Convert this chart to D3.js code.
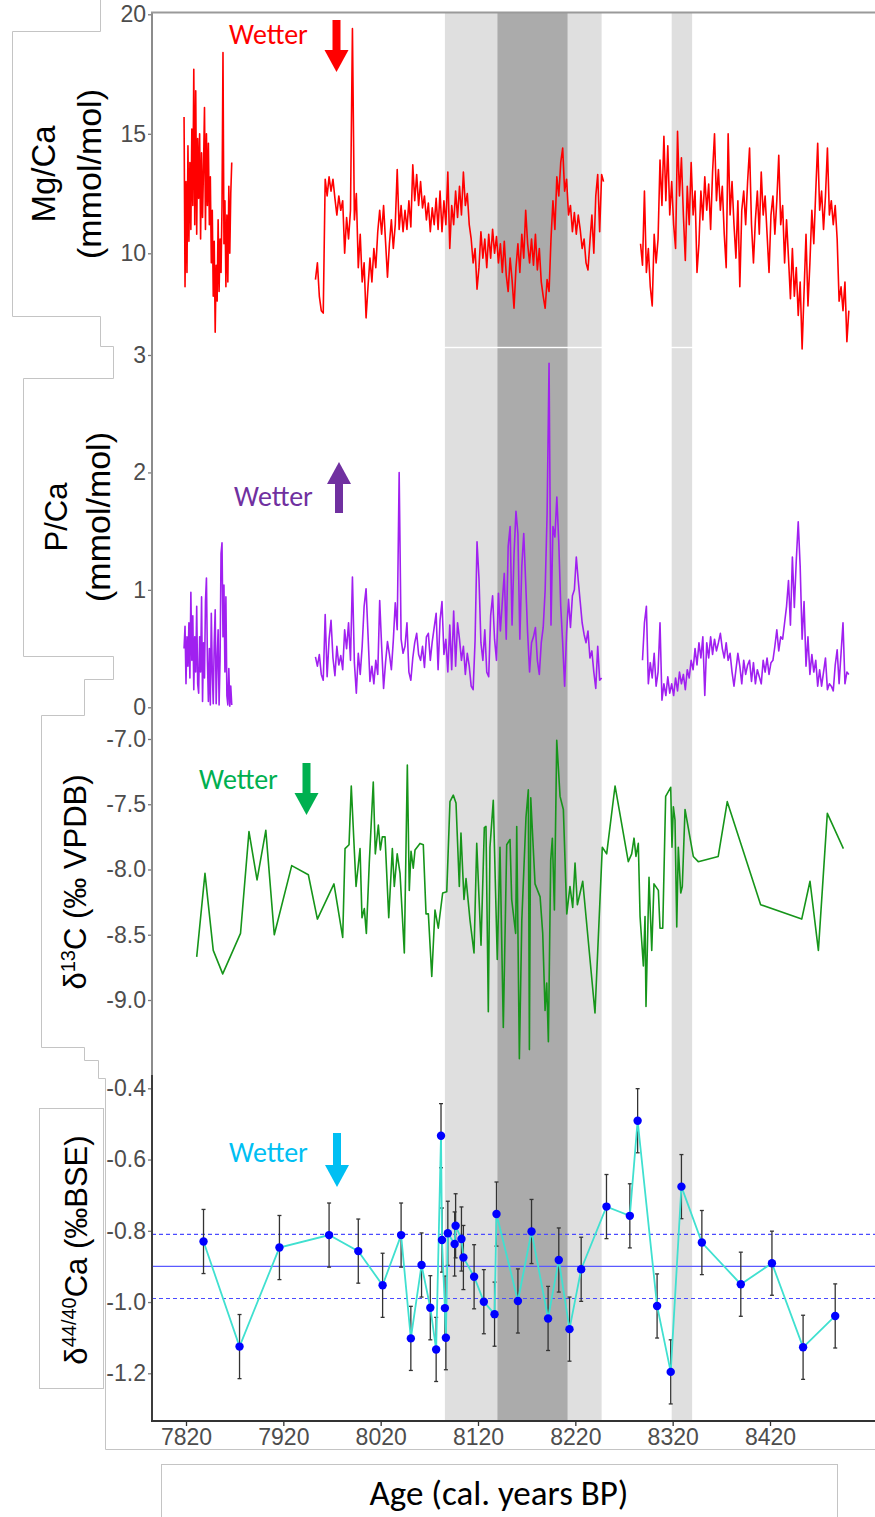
<!DOCTYPE html>
<html>
<head>
<meta charset="utf-8">
<script src="https://cdn.jsdelivr.net/npm/d3@7"></script>
<style>
    body { margin: 0; background: #fff; }
    svg { display: block; }
    .tick text { font-family: "Liberation Sans", Arial, sans-serif; font-size: 23px; fill: #4d4d4d; }
</style>
</head>
<body>
<svg width="875" height="1517"></svg>
<script>
"use strict";

// age axis (cal. years BP)
var ageTicks = [7820, 7920, 8020, 8120, 8220, 8320, 8420];
var lightBands = [[8086, 8247], [8319, 8340]];
var darkBand = [8140, 8212];

// Mg/Ca (mmol/mol): three sections sampled every mgSteps years
var mgStarts = [7818, 7953, 8287];
var mgSteps = [1, 2, 2];
var mgA = [15.7, 8.6, 13.0, 9.2, 14.5, 10.5, 13.8, 11.0, 15.2, 12.0, 17.7,
    11.2, 16.8, 10.8, 14.8, 12.3, 15.0, 10.6, 14.2, 11.5, 13.6, 16.1, 11.0,
    15.0, 12.0, 14.6, 11.2, 13.2, 9.6, 11.8, 8.2, 10.5, 6.7, 9.5, 8.0, 11.4,
    8.4, 10.6, 9.2, 12.0, 18.4, 10.4, 12.2, 8.6, 11.6, 8.8, 12.8, 10.0, 12.5,
    13.8];
var mgB = [8.9, 9.6, 8.2, 7.6, 7.5, 13.1, 12.4, 13.2, 12.6, 13.1, 12.3, 11.6,
    12.4, 11.8, 12.2, 10.0, 11.5, 10.6, 11.8, 19.4, 11.4, 12.5, 9.4, 10.8, 8.8,
    9.6, 7.3, 8.6, 9.8, 8.8, 10.2, 9.4, 10.9, 11.8, 10.8, 12.0, 10.5, 9.0,
    10.4, 11.4, 10.2, 11.2, 13.5, 11.0, 12.0, 10.9, 11.8, 11.0, 12.2, 11.1,
    13.7, 12.2, 13.3, 12.0, 13.0, 11.9, 12.4, 11.4, 12.1, 10.9, 11.9, 11.2,
    12.3, 11.0, 12.6, 10.9, 12.2, 11.2, 13.4, 10.2, 12.0, 11.2, 12.6, 11.5,
    12.8, 11.6, 13.4, 12.0, 12.5, 11.2, 10.6, 9.6, 10.2, 8.5, 9.4, 10.9, 9.8,
    10.6, 9.4, 10.8, 9.8, 11.0, 10.0, 10.7, 9.6, 10.4, 9.2, 10.5, 9.1, 8.4,
    9.8, 8.9, 7.7, 9.4, 10.4, 9.2, 10.8, 9.8, 11.8, 10.4, 9.6, 10.6, 9.5,
    10.8, 9.3, 10.2, 8.8, 8.2, 7.7, 8.9, 8.4, 10.6, 12.2, 11.0, 13.2, 12.4,
    13.8, 14.4, 12.6, 13.1, 11.6, 12.0, 10.9, 11.7, 10.8, 11.6, 11.0, 10.2,
    10.6, 9.6, 9.3, 10.5, 11.6, 10.0, 12.4, 13.3, 10.9, 13.3, 13.0];
var mgC = [10.4, 9.5, 12.6, 9.2, 10.2, 8.6, 7.8, 10.8, 9.6, 10.6, 13.9, 12.0,
    14.9, 12.2, 14.5, 11.6, 13.0, 11.2, 10.2, 15.1, 12.4, 14.0, 11.6, 9.7,
    12.8, 11.2, 13.8, 11.6, 12.6, 9.2, 10.4, 12.6, 11.4, 13.2, 11.8, 12.9,
    11.0, 13.4, 15.0, 12.2, 13.5, 11.8, 12.8, 10.8, 9.4, 15.0, 11.6, 13.0,
    11.2, 9.8, 12.2, 8.6, 11.8, 12.6, 11.2, 13.0, 14.4, 11.2, 9.6, 11.4, 12.6,
    10.8, 13.4, 11.6, 12.4, 10.8, 9.2, 11.6, 12.4, 10.8, 12.2, 14.1, 11.2,
    12.0, 9.6, 11.4, 9.8, 8.1, 10.2, 8.2, 9.4, 7.4, 8.8, 6.0, 8.4, 10.8, 7.8,
    9.6, 11.8, 10.4, 12.6, 14.6, 11.8, 12.6, 11.0, 12.4, 14.4, 11.6, 12.2,
    11.2, 12.0, 10.6, 8.0, 8.6, 7.6, 8.8, 6.3, 7.6];

// P/Ca (mmol/mol)
var pStarts = [7818, 7953, 8289];
var pSteps = [1, 2, 2];
var pA = [0.5, 0.69, 0.2, 0.6, 0.35, 0.72, 0.25, 0.98, 0.4, 0.78, 0.15, 0.6,
    0.3, 0.86, 0.2, 0.12, 0.6, 0.3, 0.94, 0.05, 0.55, 0.25, 0.9, 1.1, 0.4,
    0.05, 0.5, 0.02, 0.8, 0.3, 0.03, 0.55, 0.83, 0.03, 0.4, 0.66, 0.02, 0.4,
    1.31, 1.4, 0.6, 1.04, 0.3, 0.94, 0.1, 0.02, 0.33, 0.01, 0.18, 0.02];
var pB = [0.43, 0.35, 0.45, 0.28, 0.23, 0.79, 0.26, 0.58, 0.74, 0.42, 0.27,
    0.52, 0.36, 0.44, 0.32, 0.66, 0.5, 0.72, 0.4, 1.11, 0.38, 0.12, 0.46,
    0.28, 0.52, 0.86, 1.01, 0.62, 0.22, 0.35, 0.2, 0.4, 0.28, 0.91, 0.52,
    0.16, 0.38, 0.56, 0.45, 0.32, 0.57, 0.89, 0.66, 2.0, 0.58, 0.46, 0.52,
    0.72, 0.3, 0.23, 0.42, 0.55, 0.63, 0.45, 0.4, 0.52, 0.34, 0.6, 0.63, 0.4,
    0.56, 0.68, 0.8, 0.32, 0.74, 0.9, 0.45, 0.58, 0.3, 0.7, 0.32, 0.82, 0.35,
    0.72, 0.58, 0.4, 0.52, 0.28, 0.46, 0.35, 0.18, 0.15, 0.57, 1.41, 1.1,
    0.55, 0.4, 0.66, 0.3, 0.26, 0.78, 0.95, 0.58, 0.4, 0.97, 0.65, 0.9, 1.14,
    0.58, 1.37, 1.54, 0.7, 1.3, 1.67, 1.48, 0.58, 1.2, 1.48, 1.06, 0.63, 0.3,
    0.55, 0.6, 0.68, 0.4, 0.28, 0.55, 0.68, 1.0, 1.65, 2.93, 0.7, 1.54, 1.45,
    1.79, 1.4, 0.86, 0.55, 0.18, 0.63, 0.92, 0.68, 0.95, 1.0, 1.28, 1.08, 0.9,
    0.72, 0.62, 0.55, 0.65, 0.42, 0.48, 0.3, 0.16, 0.52, 0.23, 0.25];
var pC = [0.4, 0.72, 0.86, 0.2, 0.38, 0.25, 0.46, 0.18, 0.3, 0.72, 0.06, 0.2,
    0.1, 0.26, 0.12, 0.2, 0.1, 0.25, 0.14, 0.3, 0.2, 0.28, 0.15, 0.32, 0.25,
    0.4, 0.32, 0.5, 0.36, 0.55, 0.42, 0.6, 0.1, 0.55, 0.42, 0.6, 0.45, 0.58,
    0.48, 0.55, 0.63, 0.5, 0.42, 0.55, 0.4, 0.46, 0.3, 0.18, 0.32, 0.46,
    0.35, 0.2, 0.4, 0.28, 0.36, 0.4, 0.22, 0.38, 0.2, 0.32, 0.26, 0.2, 0.4,
    0.3, 0.42, 0.28, 0.38, 0.4, 0.52, 0.66, 0.48, 0.6, 0.58, 0.72, 0.86, 1.08,
    0.7, 1.28, 0.85, 1.25, 1.58, 1.2, 0.58, 0.9, 0.35, 0.6, 0.28, 0.45, 0.3,
    0.4, 0.18, 0.32, 0.18, 0.3, 0.42, 0.15, 0.2, 0.18, 0.14, 0.36, 0.49, 0.2,
    0.46, 0.72, 0.2, 0.3, 0.28];

// d13C (permil VPDB)
var cYears = [7831, 7839.5, 7848, 7857.7, 7876, 7884.7, 7893, 7902, 7910.7,
    7928.6, 7945.7, 7955, 7972, 7981, 7983.4, 7987.5, 7989.8, 7994.7, 7998.8,
    8000.8, 8003.2, 8005.3, 8008.3, 8012.4, 8014.5, 8017.6, 8019.7, 8021.7,
    8024.5, 8028.3, 8032, 8034, 8037, 8039.9, 8044.3, 8047.4, 8049.4, 8051.2,
    8053.5, 8055.3, 8060.4, 8063.8, 8066.6, 8069, 8072.5, 8075.8, 8079.2,
    8083.7, 8087.9, 8091.2, 8094.6, 8097.4, 8100.8, 8102.5, 8105.6, 8107.7,
    8111.8, 8115.9, 8118.7, 8123.1, 8126.5, 8128.2, 8130.6, 8132.3, 8135.7,
    8139.8, 8142.6, 8146, 8149.5, 8152.9, 8154.6, 8158.7, 8159.8, 8162.5,
    8165, 8169.3, 8171.7, 8172.8, 8174.2, 8178.6, 8183.8, 8186.5, 8188.9,
    8190.6, 8192.3, 8194.7, 8196.4, 8198.5, 8200.9, 8204.3, 8207.7, 8211.2,
    8214.5, 8217.3, 8219.7, 8222.1, 8227.6, 8240.2, 8247.7, 8252.2, 8260.8,
    8274.4, 8277.9, 8280.3, 8282.3, 8284.7, 8286.5, 8289.9, 8291.6, 8292.6,
    8295.7, 8298.5, 8300.8, 8305.3, 8307, 8309.8, 8312.8, 8318, 8319.3,
    8320.7, 8322.4, 8324.2, 8325.8, 8328.3, 8329.9, 8332.7, 8341.2, 8346.3,
    8366.8, 8376.1, 8410.4, 8452.6, 8461.1, 8469.7, 8478.9, 8495.4];
var cValues = [-8.67, -8.03, -8.62, -8.80, -8.49, -7.71, -8.08, -7.70, -8.50,
    -7.97, -8.04, -8.38, -8.11, -8.52, -7.84, -7.81, -7.36, -8.13, -7.84,
    -8.37, -8.30, -8.49, -7.95, -7.33, -7.88, -7.66, -7.85, -7.75, -7.75,
    -8.37, -7.84, -8.13, -7.88, -8.03, -8.64, -7.20, -8.16, -7.86, -7.99,
    -7.85, -7.80, -7.81, -8.34, -8.34, -8.82, -8.31, -8.45, -8.18, -8.17,
    -7.48, -7.43, -7.49, -8.13, -7.72, -8.23, -8.07, -8.39, -8.64, -7.80,
    -8.58, -7.68, -7.67, -9.09, -7.83, -7.47, -8.69, -7.83, -9.21, -7.81,
    -7.77, -8.23, -8.49, -7.67, -9.45, -8.39, -7.60, -7.39, -9.38, -7.45,
    -8.11, -8.21, -8.49, -9.08, -8.87, -9.32, -7.93, -7.76, -8.31, -7.01,
    -7.44, -7.54, -8.34, -8.13, -8.29, -7.95, -8.27, -8.09, -9.10, -7.83,
    -7.88, -7.36, -7.94, -7.88, -7.76, -7.90, -7.80, -8.36, -8.74, -8.36,
    -9.05, -8.06, -8.62, -8.11, -8.16, -8.45, -8.45, -7.44, -7.37, -7.83,
    -7.52, -7.62, -8.44, -7.83, -8.18, -8.13, -7.54, -7.90, -7.94, -7.90,
    -7.48, -8.27, -8.38, -8.09, -8.62, -7.57, -7.84];

// d44/40Ca (permil BSE) with error bars
var caYears = [7838, 7875, 7916, 7967, 7997, 8022, 8041, 8051, 8062, 8071,
    8077, 8082, 8083, 8086, 8087, 8089, 8096, 8097, 8103, 8105, 8116, 8126,
    8137, 8139, 8161, 8175, 8192, 8203, 8214, 8226, 8252, 8276, 8284, 8304,
    8318, 8329, 8350, 8390, 8422, 8454, 8487];
var caValues = [-0.83, -1.125, -0.847, -0.812, -0.857, -0.953, -0.812,
    -1.102, -0.896, -1.016, -1.133, -0.533, -0.826, -1.017, -1.10, -0.807,
    -0.837, -0.786, -0.823, -0.875, -0.929, -0.999, -1.034, -0.753, -0.997,
    -0.802, -1.046, -0.882, -1.076, -0.908, -0.732, -0.758, -0.491, -1.011,
    -1.196, -0.676, -0.833, -0.95, -0.891, -1.127, -1.039];
var caErrors = [0.09, 0.09, 0.09, 0.09, 0.09, 0.09, 0.09, 0.09, 0.09, 0.09,
    0.09, 0.09, 0.09, 0.09, 0.09, 0.09, 0.09, 0.09, 0.09, 0.09, 0.09, 0.09,
    0.09, 0.09, 0.09, 0.09, 0.09, 0.09, 0.09, 0.09, 0.09, 0.09, 0.09, 0.09,
    0.09, 0.09, 0.09, 0.09, 0.09, 0.09, 0.09];
var caMean = -0.9;
var caBand = [-0.81, -0.99];

var svg = d3.select("svg");
var plotLeft = 152;
var plotRight = 875;
var plotTop = 12;
var plotBottom = 1421;

var x = d3.scaleLinear().domain([7820, 8420]).range([186, 770]);
var yMg = d3.scaleLinear().domain([10, 20]).range([253.3, 14.3]);
var yP = d3.scaleLinear().domain([0, 3]).range([707.3, 355]);
var yC = d3.scaleLinear().domain([-9, -7]).range([1000, 739]);
var yCa = d3.scaleLinear().domain([-1.2, -0.4]).range([1373.3, 1088.3]);

var toPoints = function (start, step, values) {
    return values.map(function (v, i) {
        return [start + i * step, v];
    });
};

// shaded events
var bands = svg.append("g");
lightBands.forEach(function (b) {
    bands.append("rect")
        .attr("x", x(b[0]))
        .attr("y", plotTop)
        .attr("width", x(b[1]) - x(b[0]))
        .attr("height", plotBottom - plotTop)
        .attr("fill", "#dfdfdf");
});
bands.append("rect")
    .attr("x", x(darkBand[0]))
    .attr("y", plotTop)
    .attr("width", x(darkBand[1]) - x(darkBand[0]))
    .attr("height", plotBottom - plotTop)
    .attr("fill", "#ababab");
bands.append("rect")
    .attr("x", plotLeft)
    .attr("y", 346.8)
    .attr("width", plotRight - plotLeft)
    .attr("height", 1.4)
    .attr("fill", "#fff");

// frame outlines of the pasted panels
var frame = svg.append("g")
    .attr("fill", "none")
    .attr("stroke", "#c4c4c4")
    .attr("stroke-width", 1);
frame.append("path").attr("d", "M100.5,0V31.5H12.5V316.5H100.5V346.5" +
        "H113.5V378.5H23.5V656.5H113.5V679.5H84.5V715.5H41.5V1047.5" +
        "H84.5V1060.5H98.5V1078.5H105.5V1449.5H875");
frame.append("rect").attr("x", 39.5).attr("y", 1108.5)
    .attr("width", 64).attr("height", 280);
frame.append("rect").attr("x", 161.5).attr("y", 1464.5)
    .attr("width", 676).attr("height", 80);

// series
var line = function (yScale) {
    return d3.line()
        .x(function (d) { return x(d[0]); })
        .y(function (d) { return yScale(d[1]); });
};

[mgA, mgB, mgC].forEach(function (vals, i) {
    svg.append("path")
        .datum(toPoints(mgStarts[i], mgSteps[i], vals))
        .attr("d", line(yMg))
        .attr("fill", "none")
        .attr("stroke", "#ff0000")
        .attr("stroke-width", 1.6)
        .attr("stroke-linejoin", "round");
});

[pA, pB, pC].forEach(function (vals, i) {
    svg.append("path")
        .datum(toPoints(pStarts[i], pSteps[i], vals))
        .attr("d", line(yP))
        .attr("fill", "none")
        .attr("stroke", "#a020f0")
        .attr("stroke-width", 1.6)
        .attr("stroke-linejoin", "round");
});

svg.append("path")
    .datum(cYears.map(function (yr, i) { return [yr, cValues[i]]; }))
    .attr("d", line(yC))
    .attr("fill", "none")
    .attr("stroke", "#16951a")
    .attr("stroke-width", 1.6)
    .attr("stroke-linejoin", "round");

// d44/40Ca reference lines
svg.append("line")
    .attr("x1", plotLeft).attr("x2", plotRight)
    .attr("y1", yCa(caMean)).attr("y2", yCa(caMean))
    .attr("stroke", "#5a5aff").attr("stroke-width", 1.3);
caBand.forEach(function (v) {
    svg.append("line")
        .attr("x1", plotLeft).attr("x2", plotRight)
        .attr("y1", yCa(v)).attr("y2", yCa(v))
        .attr("stroke", "#4b4bff").attr("stroke-width", 1.2)
        .attr("stroke-dasharray", "4,3");
});

var caData = caYears.map(function (yr, i) {
    return {age: yr, v: caValues[i], e: caErrors[i]};
});
var errs = svg.append("g")
    .attr("stroke", "#333")
    .attr("stroke-width", 1.3);
caData.forEach(function (d) {
    var cx = x(d.age);
    errs.append("line").attr("x1", cx).attr("x2", cx)
        .attr("y1", yCa(d.v + d.e)).attr("y2", yCa(d.v - d.e));
    [d.v + d.e, d.v - d.e].forEach(function (w) {
        errs.append("line").attr("x1", cx - 2).attr("x2", cx + 2)
            .attr("y1", yCa(w)).attr("y2", yCa(w));
    });
});
svg.append("path")
    .datum(caData)
    .attr("d", d3.line()
        .x(function (d) { return x(d.age); })
        .y(function (d) { return yCa(d.v); }))
    .attr("fill", "none")
    .attr("stroke", "#40e0d0")
    .attr("stroke-width", 1.8);
svg.append("g").selectAll("circle")
    .data(caData)
    .join("circle")
    .attr("cx", function (d) { return x(d.age); })
    .attr("cy", function (d) { return yCa(d.v); })
    .attr("r", 4.2)
    .attr("fill", "#0000ff");

// axes
var styleAxis = function (g, tickColor) {
    g.attr("font-size", 23)
        .attr("font-family", "Liberation Sans, Arial, sans-serif");
    g.select(".domain").remove();
    g.selectAll(".tick line")
        .attr("stroke", tickColor)
        .attr("stroke-width", 1.3);
    g.selectAll(".tick text").attr("fill", "#4d4d4d");
};
var addLeftAxis = function (scale, ticks, fmt) {
    var g = svg.append("g")
        .attr("transform", "translate(" + plotLeft + ",0)")
        .call(d3.axisLeft(scale).tickValues(ticks).tickFormat(fmt)
            .tickSize(4).tickPadding(2));
    styleAxis(g, "#7a7a7a");
};
addLeftAxis(yMg, [10, 15, 20], String);
addLeftAxis(yP, [0, 1, 2, 3], String);
addLeftAxis(yC, [-9, -8.5, -8, -7.5, -7], function (d) {
    return d.toFixed(1);
});
addLeftAxis(yCa, [-1.2, -1.0, -0.8, -0.6, -0.4], function (d) {
    return d.toFixed(1);
});

var xAxisG = svg.append("g")
    .attr("transform", "translate(0," + plotBottom + ")")
    .call(d3.axisBottom(x).tickValues(ageTicks).tickFormat(String)
        .tickSize(5).tickPadding(3));
styleAxis(xAxisG, "#333");

svg.append("line")
    .attr("x1", plotLeft).attr("x2", plotLeft)
    .attr("y1", plotTop).attr("y2", 1075)
    .attr("stroke", "#8c8c8c").attr("stroke-width", 2);
svg.append("line")
    .attr("x1", plotLeft).attr("x2", plotLeft)
    .attr("y1", 1075).attr("y2", plotBottom + 1)
    .attr("stroke", "#3c3c3c").attr("stroke-width", 2);
svg.append("line")
    .attr("x1", plotLeft - 1).attr("x2", plotRight)
    .attr("y1", plotTop + 0.5).attr("y2", plotTop + 0.5)
    .attr("stroke", "#9a9a9a").attr("stroke-width", 2);
svg.append("line")
    .attr("x1", plotLeft - 1).attr("x2", plotRight)
    .attr("y1", plotBottom).attr("y2", plotBottom)
    .attr("stroke", "#333").attr("stroke-width", 2.2);

// y titles
var titleFont = "'Liberation Sans', Arial, sans-serif";
var vTitle = function (tx, ty, size, parts) {
    var t = svg.append("text")
        .attr("transform", "translate(" + tx + "," + ty + ") rotate(-90)")
        .attr("text-anchor", "middle")
        .style("font-family", titleFont)
        .style("font-size", size + "px")
        .attr("fill", "#000");
    parts.forEach(function (p) {
        var s = t.append("tspan").text(p.text);
        if (p.sup) {
            s.attr("dy", -11).style("font-size", "20px");
        } else if (p.after) {
            s.attr("dy", 11);
        }
    });
};
vTitle(55, 174, 33, [{text: "Mg/Ca"}]);
vTitle(101, 174, 34, [{text: "(mmol/mol)"}]);
vTitle(67, 517, 31, [{text: "P/Ca"}]);
vTitle(110, 517, 34, [{text: "(mmol/mol)"}]);
vTitle(86, 882, 31, [{text: "\u03b4"}, {text: "13", sup: true},
        {text: "C (\u2030 VPDB)", after: true}]);
vTitle(87, 1250, 31, [{text: "\u03b4"}, {text: "44/40", sup: true},
        {text: "Ca (\u2030BSE)", after: true}]);

svg.append("text")
    .attr("x", 499)
    .attr("y", 1505)
    .attr("text-anchor", "middle")
    .style("font-family", "Carlito, Lato, sans-serif")
    .style("font-size", "35px")
    .attr("fill", "#000")
    .text("Age (cal. years BP)");

// "Wetter" arrows
var notes = [
    {color: "#ff0000", tx: 229, ty: 44, ax: 336.5, y0: 20, y1: 50, y2: 72},
    {color: "#7030a0", tx: 234, ty: 506, ax: 339, y0: 513, y1: 484, y2: 462},
    {color: "#00b050", tx: 199, ty: 789, ax: 306.5, y0: 763, y1: 793,
        y2: 815},
    {color: "#00bff3", tx: 229, ty: 1162, ax: 337, y0: 1133, y1: 1165,
        y2: 1187}
];
notes.forEach(function (n) {
    svg.append("text")
        .attr("x", n.tx)
        .attr("y", n.ty)
        .style("font-family", "Carlito, Lato, sans-serif")
        .style("font-size", "28px")
        .attr("fill", n.color)
        .text("Wetter");
    svg.append("rect")
        .attr("x", n.ax - 4)
        .attr("y", Math.min(n.y0, n.y1))
        .attr("width", 8)
        .attr("height", Math.abs(n.y1 - n.y0))
        .attr("fill", n.color);
    svg.append("path")
        .attr("d", "M" + (n.ax - 12) + "," + n.y1 + "L" + (n.ax + 12) + "," +
                n.y1 + "L" + n.ax + "," + n.y2 + "Z")
        .attr("fill", n.color);
});
</script>
</body>
</html>
